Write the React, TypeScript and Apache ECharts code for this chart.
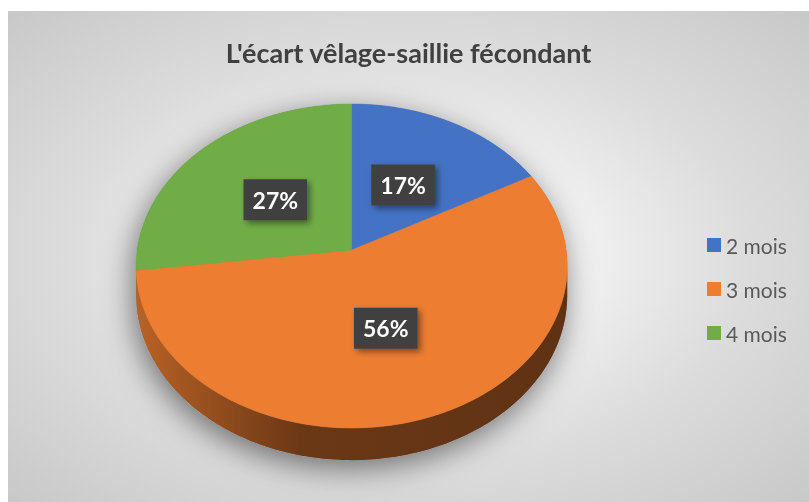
import React, { useEffect, useRef } from "react";
import * as echarts from "echarts";

const titleText = "L'écart vêlage-saillie fécondant";
const categories = ["2 mois", "3 mois", "4 mois"];
const shares = [17, 56, 27];
const colors = ["#4472c4", "#ed7d31", "#70ad47"];

// geometry of the tilted pie (chart-local pixels)
const CX = 343.7;
const CY = 239;
const RX = 214.5;
const RY = 160.4;
const K = 0.0988;
const DEPTH = 29;
const LABEL_F = 0.49;

function proj(t: number, f = 1): number[] {
  const u = Math.sin(t) * f;
  const v = Math.cos(t) * f;
  const s = 1 / (1 + K * v);
  return [CX + RX * u * s, CY - RY * v * s];
}
function depthAt(t: number) {
  return DEPTH / (1 + K * Math.cos(t));
}
function arc(a: number, b: number, down = false): number[][] {
  const pts: number[][] = [];
  const n = Math.max(2, Math.ceil(((b - a) * 180) / Math.PI));
  for (let i = 0; i <= n; i++) {
    const t = a + ((b - a) * i) / n;
    const p = proj(t);
    if (down) p[1] += depthAt(t);
    pts.push(p);
  }
  return pts;
}
function shade(hex: string, k: number) {
  const n = parseInt(hex.slice(1), 16);
  const r = Math.round(((n >> 16) & 255) * k);
  const g = Math.round(((n >> 8) & 255) * k);
  const b = Math.round((n & 255) * k);
  return `rgb(${r},${g},${b})`;
}

const T_R = Math.acos(-K);
const T_L = 2 * Math.PI - T_R;

export default function App() {
  const ref = useRef<HTMLDivElement>(null);
  useEffect(() => {
    if (!ref.current) return;
    const chart = echarts.init(ref.current, null, { renderer: "svg" });
    const total = shares.reduce((a, b) => a + b, 0);
    const cum: number[] = [];
    shares.reduce((acc, v, i) => {
      cum[i] = acc;
      return acc + v;
    }, 0);
    const items = categories.map((c, i) => ({ name: c, value: [shares[i], cum[i], total, i] }));
    const angles = (api: any) => {
      const v = api.value(0);
      const s = api.value(1);
      const tot = api.value(2);
      return [(s / tot) * 2 * Math.PI, ((s + v) / tot) * 2 * Math.PI];
    };

    const series: any[] = [];
    // shadow / base silhouette
    series.push({
      type: "custom",
      name: "shadow",
      coordinateSystem: "none",
      silent: true,
      data: [[0]],
      renderItem: () => {
        const top = arc(T_L - 2 * Math.PI, T_R);
        const bottom = arc(T_R, T_L, true);
        return {
          type: "polygon",
          shape: { points: top.concat(bottom) },
          style: {
            fill: "#8a8a8a",
            shadowBlur: 30,
            shadowColor: "rgba(0,0,0,0.5)",
            shadowOffsetX: -3,
            shadowOffsetY: 8,
          },
        };
      },
    });
    // side walls
    series.push({
      type: "custom",
      name: "side",
      coordinateSystem: "none",
      silent: true,
      data: items,
      renderItem: (params: any, api: any) => {
        const [a, b] = angles(api);
        const i = api.value(3);
        const a2 = Math.max(a, T_R);
        const b2 = Math.min(b, T_L);
        if (a2 >= b2) return { type: "group", children: [] };
        const pts = arc(a2, b2).concat(arc(a2, b2, true).reverse());
        return {
          type: "polygon",
          shape: { points: pts },
          style: {
            fill: {
              type: "linear",
              x: 0,
              y: 0,
              x2: 1,
              y2: 0,
              colorStops: [
                { offset: 0, color: shade(colors[i], 0.78) },
                { offset: 0.38, color: shade(colors[i], 0.45) },
                { offset: 1, color: shade(colors[i], 0.4) },
              ],
            },
          },
        };
      },
    });
    // top faces, one series per category (for the legend)
    categories.forEach((c, i) => {
      series.push({
        type: "custom",
        name: c,
        coordinateSystem: "none",
        itemStyle: { color: colors[i] },
        data: [items[i]],
        renderItem: (params: any, api: any) => {
          const [a, b] = angles(api);
          const pts = [[CX, CY]].concat(arc(a, b));
          return {
            type: "polygon",
            shape: { points: pts },
            style: { fill: colors[i], stroke: colors[i], lineWidth: 0.5 },
          };
        },
      });
    });
    // data labels
    series.push({
      type: "custom",
      name: "labels",
      coordinateSystem: "none",
      silent: true,
      data: items,
      renderItem: (params: any, api: any) => {
        const [a, b] = angles(api);
        const m = (a + b) / 2;
        const p = proj(m, LABEL_F);
        const pct = Math.round((api.value(0) / api.value(2)) * 100) + "%";
        return {
          type: "text",
          x: p[0],
          y: p[1],
          style: {
            text: pct,
            fill: "#ffffff",
            fontSize: 23,
            fontWeight: "bold",
            fontFamily: "Lato",
            align: "center",
            verticalAlign: "middle",
            lineHeight: 24,
            backgroundColor: "#404040",
            padding: [9, 9, 8, 9],
            shadowBlur: 6,
            shadowColor: "rgba(0,0,0,0.45)",
            shadowOffsetX: 3,
            shadowOffsetY: 3,
          },
        };
      },
    });

    chart.setOption({
      animation: false,
      title: {
        text: titleText,
        left: "center",
        top: 23,
        textStyle: {
          fontFamily: "Lato",
          fontSize: 27,
          fontWeight: "bold",
          color: "#404040",
        },
      },
      legend: {
        data: categories,
        orient: "vertical",
        left: 694,
        top: 218,
        itemWidth: 14,
        itemHeight: 14,
        itemGap: 22,
        icon: "rect",
        textStyle: {
          fontFamily: "Lato",
          fontSize: 21,
          lineHeight: 22,
          color: "#595959",
        },
      },
      series,
    });
    return () => chart.dispose();
  }, []);

  return (
    <div
      style={{
        position: "fixed",
        left: 8,
        top: 11,
        width: 801,
        height: 491,
        background:
          "radial-gradient(ellipse farthest-corner at 50% 50%, #ffffff 0%, #f4f4f4 25%, #dcdcdc 60%, #c8c8c8 100%)",
      }}
    >
      <div ref={ref} style={{ width: 801, height: 491 }} />
    </div>
  );
}
